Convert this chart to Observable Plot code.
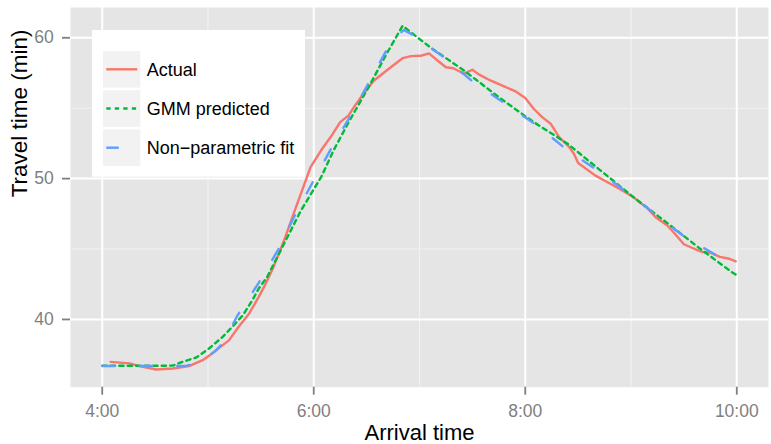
<!DOCTYPE html>
<html><head><meta charset="utf-8">
<script src="https://cdn.jsdelivr.net/npm/d3@7"></script>
<script src="https://cdn.jsdelivr.net/npm/@observablehq/plot@0.6"></script>
<style>
body{margin:0;background:#fff;}
#chart{position:relative;width:771px;height:444px;}
</style>
</head><body><div id="chart"></div>
<script>
// ---- data ----
const seriesNames = ["Actual", "GMM predicted", "Non\u2212parametric fit"];
const seriesColors = ["#F8766D", "#00BA38", "#619CFF"];
const xTicks = [4, 6, 8, 10];
const xTickLabels = ["4:00", "6:00", "8:00", "10:00"];
const xMinor = [5, 7, 9];
const yTicks = [40, 50, 60];
const yMinor = [45, 55];
const xTitle = "Arrival time";
const yTitle = "Travel time (min)";

// Actual (hours of day, minutes)
const actualHour = [4.08,4.26,4.35,4.51,4.67,4.82,4.95,5.04,5.14,5.20,5.29,5.39,5.48,5.53,5.62,5.72,5.81,5.89,5.97,6.07,6.16,6.25,6.33,6.38,6.47,6.57,6.71,6.84,6.92,7.01,7.09,7.17,7.25,7.32,7.42,7.50,7.56,7.67,7.80,7.91,8.00,8.08,8.16,8.24,8.32,8.41,8.46,8.50,8.66,8.80,8.93,9.02,9.09,9.15,9.23,9.34,9.40,9.50,9.59,9.67,9.75,9.84,9.92,9.99];
const actualMin  = [36.99,36.88,36.69,36.45,36.52,36.69,37.11,37.59,38.18,38.53,39.48,40.43,41.60,42.31,43.73,45.62,47.52,49.17,50.82,52.01,52.95,54.01,54.49,55.08,56.03,56.97,57.80,58.55,58.70,58.72,58.89,58.39,57.91,57.84,57.45,57.73,57.40,56.97,56.55,56.19,55.72,54.96,54.37,53.90,52.95,52.29,51.77,51.11,50.23,49.65,49.10,48.70,48.27,47.94,47.28,46.69,46.21,45.34,45.04,44.79,44.75,44.44,44.33,44.13];

// GMM predicted
const gmmHour = [4.00,4.30,4.60,4.67,4.76,4.89,5.01,5.14,5.23,5.33,5.42,5.48,5.56,5.72,5.88,6.07,6.19,6.33,6.51,6.68,6.84,7.10,7.42,7.77,8.08,8.40,8.71,9.02,9.37,9.65,9.95,10.00];
const gmmMin  = [36.71,36.71,36.71,36.73,36.99,37.30,37.94,38.77,39.48,40.30,41.37,42.20,43.02,45.39,47.75,50.11,52.04,54.01,56.38,58.74,60.85,59.33,57.68,55.67,54.01,52.48,50.59,48.70,46.69,45.04,43.38,43.15];

// Non-parametric fit
const npHour = [4.00,4.30,4.60,4.80,4.93,5.06,5.14,5.28,5.48,5.66,5.83,6.00,6.19,6.36,6.54,6.73,6.85,6.92,7.23,7.51,7.81,8.11,8.40,8.68,9.02,9.24,9.32,9.53,9.62,9.84,10.00];
const npMin  = [36.69,36.69,36.69,36.72,37.00,37.70,38.30,40.30,42.60,44.91,47.52,49.88,52.48,54.61,57.09,59.69,60.55,60.28,58.62,56.85,55.32,53.78,52.01,50.59,48.70,47.40,46.92,45.74,45.39,44.40,44.10];

// ---- build table ----
const rows = [];
actualHour.forEach((h, i) => rows.push({series: seriesNames[0], hour: h, min: actualMin[i]}));
gmmHour.forEach((h, i) => rows.push({series: seriesNames[1], hour: h, min: gmmMin[i]}));
npHour.forEach((h, i) => rows.push({series: seriesNames[2], hour: h, min: npMin[i]}));
const bySeries = s => rows.filter(r => r.series === s);

const font = "'Liberation Sans', Arial, Helvetica, sans-serif";
const grey = "#7F7F7F";
const lw = 2.4;
const dashes = [null, "4.3,4.2", "12.5,25"];

const chart = Plot.plot({
  width: 771, height: 444,
  marginLeft: 70, marginRight: 3, marginTop: 7, marginBottom: 57.3,
  style: {fontFamily: font, background: "#fff", color: "#000", overflow: "visible"},
  x: {domain: [3.7, 10.3]},
  y: {domain: [35.19, 62.15]},
  marks: [
    Plot.frame({fill: "#E5E5E5", stroke: "none"}),
    Plot.ruleX(xMinor, {stroke: "#F2F2F2", strokeWidth: 1.1}),
    Plot.ruleY(yMinor, {stroke: "#F2F2F2", strokeWidth: 1.1}),
    Plot.ruleX(xTicks, {stroke: "#FFFFFF", strokeWidth: 2}),
    Plot.ruleY(yTicks, {stroke: "#FFFFFF", strokeWidth: 2}),
    Plot.line(bySeries(seriesNames[0]), {x: "hour", y: "min", stroke: seriesColors[0], strokeWidth: lw}),
    Plot.line(bySeries(seriesNames[1]), {x: "hour", y: "min", stroke: seriesColors[1], strokeWidth: lw, strokeDasharray: dashes[1]}),
    Plot.line(bySeries(seriesNames[2]), {x: "hour", y: "min", stroke: seriesColors[2], strokeWidth: lw, strokeDasharray: dashes[2]}),
    Plot.axisX(xTicks, {tickFormat: d => xTickLabels[xTicks.indexOf(d)], tickSize: 8, tickPadding: 9.6,
      fontSize: 17.5, color: grey, stroke: grey, strokeWidth: 1.8, label: null}),
    Plot.axisY(yTicks, {tickSize: 8, tickPadding: 8.7, fontSize: 17.5, color: grey, stroke: grey, strokeWidth: 1.8, label: null}),
    Plot.text([xTitle], {frameAnchor: "bottom", dy: 45.6, fontSize: 22, fill: "#000", lineAnchor: "middle"}),
    Plot.text([yTitle], {frameAnchor: "left", rotate: -90, dx: -50.3, fontSize: 22.5, fill: "#000", lineAnchor: "middle"})
  ]
});

// ---- legend (inside the panel, top-left) ----
const svg = d3.select(chart);
const lg = svg.append("g").attr("font-family", font).attr("text-anchor", "start");
lg.append("rect").attr("x", 92).attr("y", 30).attr("width", 213).attr("height", 146.7).attr("fill", "#FFFFFF");
seriesNames.forEach((name, i) => {
  const top = 51 + i * 39.2;
  const cy = top + 18.3;
  lg.append("rect").attr("x", 103).attr("y", top).attr("width", 37.3).attr("height", 36.6).attr("fill", "#F2F2F2");
  const ln = lg.append("line").attr("x1", 106.3).attr("x2", 137.3).attr("y1", cy).attr("y2", cy)
    .attr("stroke", seriesColors[i]).attr("stroke-width", lw);
  if (dashes[i]) ln.attr("stroke-dasharray", dashes[i]);
  lg.append("text").attr("x", 146.7).attr("y", cy + 6.6).attr("font-size", 18)
    .attr("fill", "#000").attr("text-anchor", "start").text(name);
});

document.getElementById("chart").appendChild(chart);
</script>
</body></html>
